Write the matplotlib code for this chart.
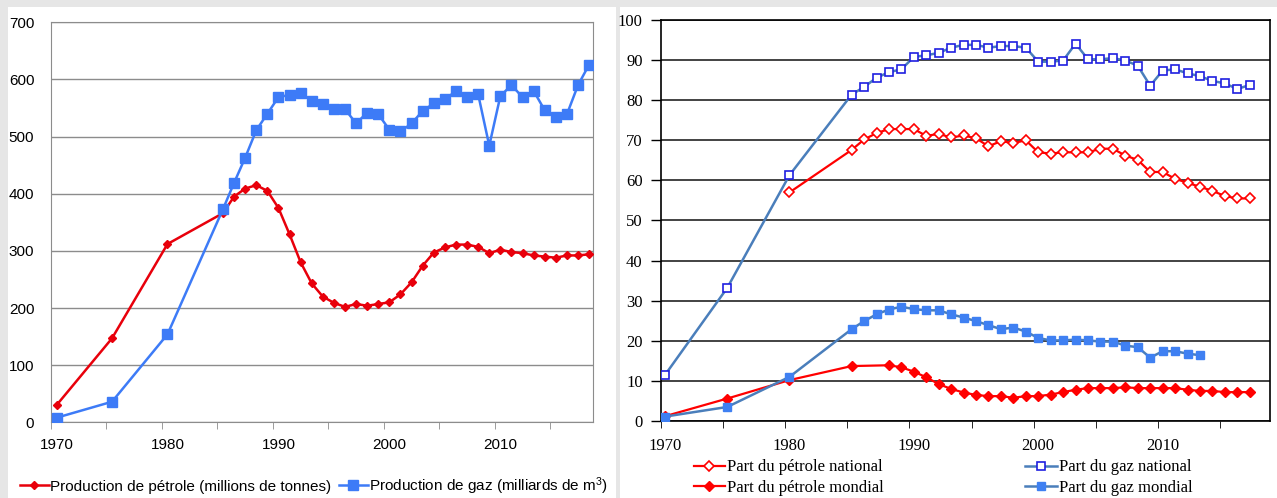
import matplotlib
matplotlib.use("Agg")
import matplotlib.pyplot as plt
from matplotlib.patches import Rectangle

# --- left panel: production ---
years_prod = [1970, 1975, 1980] + list(range(1985, 2019))
oil_prod = [30, 147, 312,
            366, 395, 409, 415, 405, 375, 329, 280, 243, 220, 209, 202, 207, 204, 207,
            210, 224, 245, 274, 297, 306, 311, 311, 307, 296, 302, 298, 296, 292, 290,
            288, 292, 292, 294]
gas_prod = [8, 36, 154,
            373, 419, 463, 511, 540, 569, 573, 576, 563, 557, 548, 548, 523, 542, 539,
            512, 509, 523, 545, 558, 566, 579, 570, 574, 484, 571, 590, 569, 580, 546,
            534, 539, 590, 626]

# --- right panel: shares (%) ---
years_gas_nat = [1970, 1975, 1980] + list(range(1985, 2018))
gas_nat = [11.5, 33.2, 61.3,
           81.4, 83.3, 85.6, 87.0, 87.7, 90.8, 91.2, 91.8, 93.1, 93.8, 93.8, 93.1, 93.5,
           93.5, 93.1, 89.6, 89.6, 89.9, 94.1, 90.2, 90.2, 90.5, 89.9, 88.6, 83.6, 87.4,
           87.7, 86.7, 86.0, 84.8, 84.2, 82.8, 83.8]
years_oil_nat = [1980] + list(range(1985, 2018))
oil_nat = [57.0,
           67.6, 70.2, 71.8, 72.8, 72.8, 72.8, 71.1, 71.6, 70.7, 71.2, 70.5, 68.5, 69.8,
           69.3, 70.0, 67.0, 66.7, 67.0, 67.0, 67.0, 67.9, 67.9, 66.2, 65.1, 62.1, 62.1,
           60.4, 59.4, 58.4, 57.4, 56.1, 55.5, 55.5]
years_gas_mon = [1970, 1975, 1980] + list(range(1985, 2014))
gas_mon = [1.1, 3.5, 11.0,
           22.9, 24.9, 26.6, 27.8, 28.5, 27.9, 27.6, 27.6, 26.6, 25.8, 24.9, 23.9, 22.9,
           23.3, 22.3, 20.7, 20.1, 20.1, 20.3, 20.1, 19.8, 19.8, 18.8, 18.4, 15.8, 17.4,
           17.4, 16.8, 16.4]
years_oil_mon = [1970, 1975, 1980, 1985] + list(range(1988, 2018))
oil_mon = [1.2, 5.6, 10.2, 13.7,
           13.9, 13.4, 12.3, 10.9, 9.2, 8.0, 7.1, 6.5, 6.2, 6.2, 5.8, 6.2, 6.2, 6.6,
           7.2, 7.8, 8.2, 8.2, 8.2, 8.4, 8.2, 8.2, 8.2, 8.2, 7.8, 7.5, 7.5, 7.2, 7.2, 7.2]

W, H = 1277, 498
fig = plt.figure(figsize=(W / 100, H / 100), dpi=100)
fig.patch.set_facecolor("#e6e6e6")
plt.rcParams["mathtext.default"] = "regular"

# white cards behind each chart
for x0, x1 in [(8, 616), (620, 1277)]:
    fig.patches.append(Rectangle((x0 / W, 0), (x1 - x0) / W, (H - 7) / H,
                                 transform=fig.transFigure, facecolor="white",
                                 edgecolor="none", zorder=-10))

sans = "Liberation Sans"
serif = "Liberation Serif"

# ---------- left ----------
ax = fig.add_axes([51 / W, (H - 422.3) / H, 542 / W, 400 / H])
ax.plot(years_prod, oil_prod, "-D", color="#e8000b", lw=1.8, ms=4.5,
        label="Production de pétrole (millions de tonnes)", zorder=3)
ax.plot(years_prod, gas_prod, "-s", color="#3d7bf7", lw=1.8, ms=6.5,
        label="Production de gaz (milliards de m$^3$)", zorder=4)
ax.set_xlim(1969.5, 2018.35)
ax.set_ylim(0, 700)
ax.set_yticks(range(0, 701, 100))
ax.set_xticks([1970, 1980, 1990, 2000, 2010])
ax.set_xticks([1969.5 + 5 * k for k in range(10)], minor=True)
ax.tick_params(axis="x", which="major", length=0, pad=11)
ax.tick_params(axis="x", which="minor", length=5, color="#8c8c8c", direction="out")
ax.tick_params(axis="y", length=0, pad=12)
for lab in ax.get_xticklabels() + ax.get_yticklabels():
    lab.set_fontfamily(sans)
    lab.set_fontsize(11)
ax.grid(axis="y", color="#8c8c8c", lw=1)
ax.set_axisbelow(True)
for s in ax.spines.values():
    s.set_color("#8c8c8c")
fig.legend(*ax.get_legend_handles_labels(), loc="center", bbox_to_anchor=(314 / W, 12 / H),
           ncol=2, frameon=False, prop={"family": sans, "size": 11},
           handlelength=1.9, handletextpad=0.1, columnspacing=0.5, borderaxespad=0)

# ---------- right ----------
ax2 = fig.add_axes([660.7 / W, (H - 421) / H, 609.3 / W, 401 / H])
red = "#ff0000"
steel = "#4a7ebb"
ax2.plot(years_oil_nat, oil_nat, "-D", color=red, lw=1.6, ms=5, mfc="white",
         mec=red, mew=1.2, label="Part du pétrole national", zorder=3)
ax2.plot(years_oil_mon, oil_mon, "-D", color=red, lw=1.6, ms=5, mfc=red,
         mec=red, label="Part du pétrole mondial", zorder=3)
ax2.plot(years_gas_nat, gas_nat, "-s", color=steel, lw=1.8, ms=6, mfc="white",
         mec="#1f1fe0", mew=1.2, label="Part du gaz national", zorder=4)
ax2.plot(years_gas_mon, gas_mon, "-s", color=steel, lw=1.8, ms=6, mfc="#3f80f2",
         mec="#3f80f2", label="Part du gaz mondial", zorder=4)
ax2.set_xlim(1969.65, 2018.63)
ax2.set_ylim(0, 100)
ax2.set_yticks(range(0, 101, 10))
ax2.set_xticks([1970, 1980, 1990, 2000, 2010])
ax2.set_xticks([1969.65 + 5 * k for k in range(10)], minor=True)
ax2.tick_params(axis="x", which="major", length=0, pad=12)
ax2.tick_params(axis="x", which="minor", length=5, color="black", direction="out")
ax2.tick_params(axis="y", length=7, width=1, color="black", direction="out", pad=6)
for lab in ax2.get_xticklabels() + ax2.get_yticklabels():
    lab.set_fontfamily(serif)
    lab.set_fontsize(12)
ax2.grid(axis="y", color="#222222", lw=1.2)
ax2.set_axisbelow(True)
for s in ax2.spines.values():
    s.set_color("black")
    s.set_linewidth(1.2)
h, l = ax2.get_legend_handles_labels()
fig.legend(h, l, loc="center", bbox_to_anchor=(943 / W, 20.5 / H), ncol=2,
           frameon=False, prop={"family": serif, "size": 12},
           handlelength=1.9, handletextpad=0.1, columnspacing=8.5,
           labelspacing=0.25, borderaxespad=0)

fig.savefig("out.png", dpi=100)
